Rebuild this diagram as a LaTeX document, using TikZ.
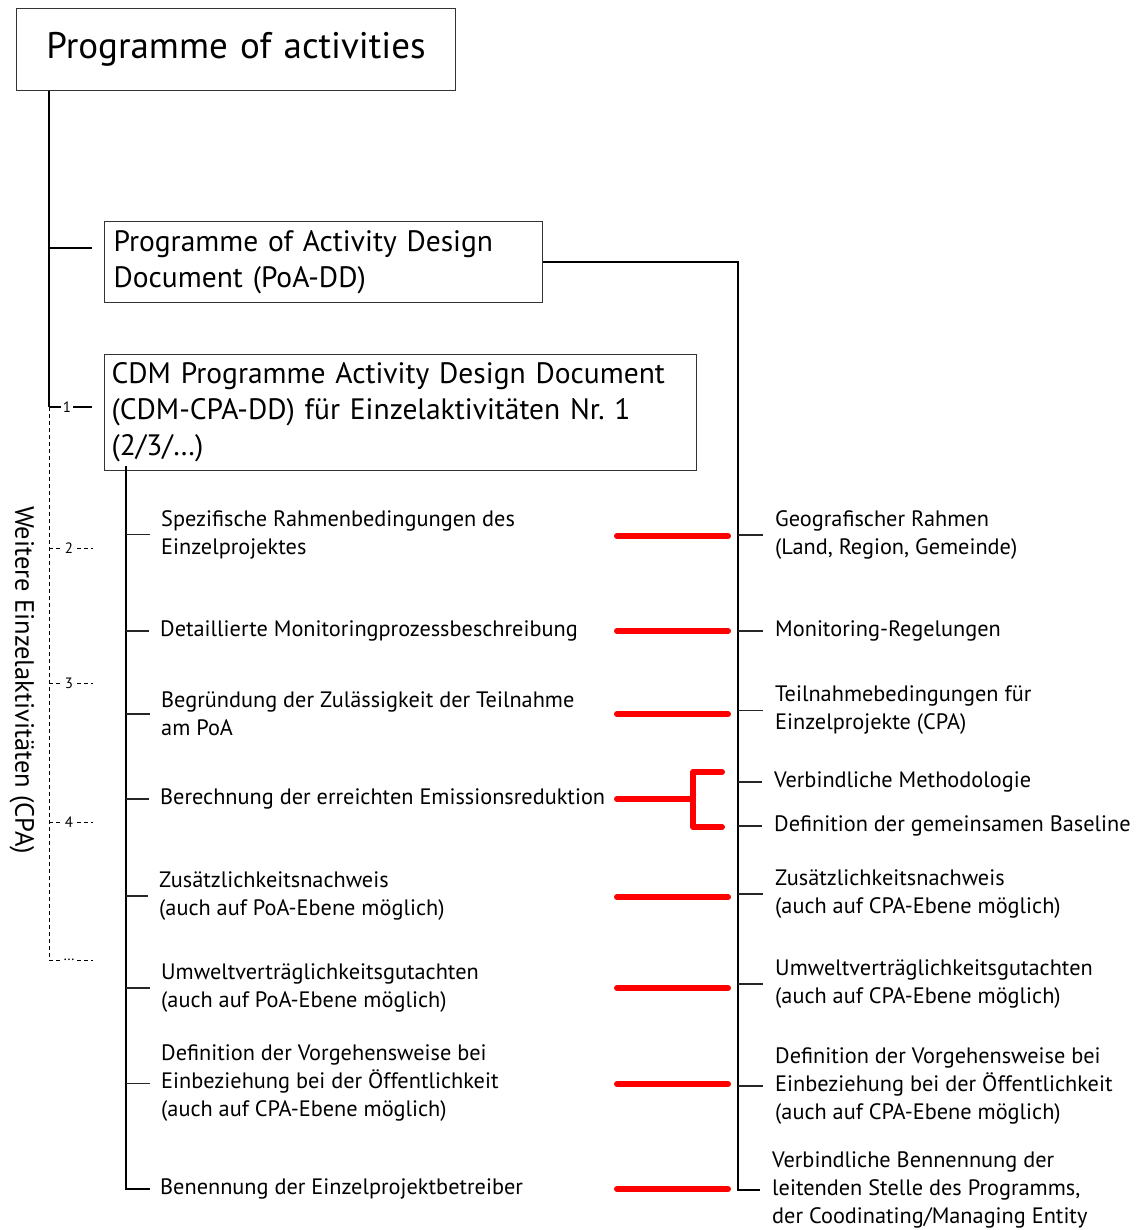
\documentclass[tikz,border=0pt]{standalone}
\usepackage{fontspec}
\setmainfont{PT Sans}
\begin{document}
\begin{tikzpicture}[x=1pt,y=-1pt,
  box/.style={draw=black!80,line width=1.1pt,anchor=north west,align=left,inner ysep=0pt},
  item/.style={anchor=west,align=left,inner sep=0pt,font=\fontsize{22.3}{28}\selectfont},
  twig/.style={line width=1.1pt,black!85},
  spine/.style={line width=1.4pt},
  trunk/.style={line width=2.2pt},
  redbar/.style={red,line width=6pt,line cap=round},
  redjoin/.style={red,line width=6pt,line cap=round,line join=round},
  num/.style={font=\fontsize{15}{16}\selectfont,fill=white,inner sep=1.5pt},
  weak/.style={dash pattern=on 4pt off 3pt,line width=1pt}
]
\useasboundingbox (0,0) rectangle (1135,1230);

% document boxes
\node[box,align=center,minimum width=439pt,minimum height=82pt,inner xsep=9.5pt,text width=420pt,
      font=\fontsize{37}{40}\selectfont] (title) at (16,8) {Programme of activities};
\node[box,minimum width=438pt,minimum height=81pt,inner xsep=9pt,text width=420pt,
      font=\fontsize{29.5}{36}\selectfont] (poa) at (104,221)
      {Programme of Activity Design\\Document (PoA-DD)};
\node[box,minimum width=592pt,minimum height=116pt,inner xsep=7pt,text width=578pt,
      font=\fontsize{29.5}{36}\selectfont] (cpa) at (104,354)
      {CDM Programme Activity Design Document\\(CDM-CPA-DD) für Einzelaktivitäten Nr.~1\\(2/3/\dots)};

% side label
\node[rotate=-90,font=\fontsize{26.5}{30}\selectfont,inner sep=0pt] (side) at (22,680)
      {Weitere Einzelaktivitäten (CPA)};

% CPA items (left column)
\node[item] (l1) at (161,534.5) {Spezifische Rahmenbedingungen des\\Einzelprojektes};
\node[item] (l2) at (160,631) {Detaillierte Monitoringprozessbeschreibung};
\node[item] (l3) at (161,714) {Begründung der Zulässigkeit der Teilnahme\\am PoA};
\node[item] (l4) at (160,799) {Berechnung der erreichten Emissionsreduktion};
\node[item] (l5) at (159,896) {Zusätzlichkeitsnachweis\\(auch auf PoA-Ebene möglich)};
\node[item] (l6) at (161,988) {Umweltverträglichkeitsgutachten\\(auch auf PoA-Ebene möglich)};
\node[item] (l7) at (161,1083.5) {Definition der Vorgehensweise bei\\Einbeziehung bei der Öffentlichkeit\\(auch auf CPA-Ebene möglich)};
\node[item] (l8) at (160,1189) {Benennung der Einzelprojektbetreiber};

% PoA items (right column)
\node[item] (r1) at (775,535) {Geografischer Rahmen\\(Land, Region, Gemeinde)};
\node[item] (r2) at (775,631) {Monitoring-Regelungen};
\node[item] (r3) at (775,710.5) {Teilnahmebedingungen für\\Einzelprojekte (CPA)};
\node[item] (r4) at (774,782) {Verbindliche Methodologie};
\node[item] (r5) at (774,826) {Definition der gemeinsamen Baseline};
\node[item] (r6) at (775,894) {Zusätzlichkeitsnachweis\\(auch auf CPA-Ebene möglich)};
\node[item] (r7) at (775,984) {Umweltverträglichkeitsgutachten\\(auch auf CPA-Ebene möglich)};
\node[item] (r8) at (775,1086) {Definition der Vorgehensweise bei\\Einbeziehung bei der Öffentlichkeit\\(auch auf CPA-Ebene möglich)};
\node[item] (r9) at (772,1190) {Verbindliche Bennennung der\\leitenden Stelle des Programms,\\der Coodinating/Managing Entity};

% main spine from the programme box
\coordinate (top) at ([xshift=33pt]title.south west);
\coordinate (poaTick) at (49,248);
\coordinate (cpaTick) at (49,407);
\coordinate (dEnd) at (49,960);
\draw[spine] (top) -- (cpaTick);
\draw[spine] (poaTick) -- ([xshift=-12pt]poa.west |- poaTick);
\draw[spine] (cpaTick) -- ([xshift=-12pt]cpa.west |- cpaTick);
\node[num] (n1) at (67,407) {1};

% further single activities (dashed)
\draw[weak] (cpaTick) -- (dEnd) -- ++(44,0);
\foreach \y/\t/\nm in {548/2/n2, 683/3/n3, 822/4/n4} {
  \draw[weak] (49,\y) -- ++(44,0);
  \node[num] (\nm) at (69,\y) {\t};
}
\node[num] (n5) at (69,960) {\dots};

% CPA tree (left)
\coordinate (lsp) at ([xshift=22pt,yshift=5pt]cpa.south west);
\draw[trunk] (lsp) -- (lsp |- l8.west) -- ([xshift=-10pt]l8.west);
\foreach \n in {l1,l2,l3,l4,l5,l6,l7}
  \draw[twig] (lsp |- \n.west) -- ([xshift=-11pt]\n.west);

% PoA tree (right)
\coordinate (rsp) at (738,0);
\draw[trunk] (poa.east) -- (rsp |- poa.east) -- (rsp |- r9.west) -- ([xshift=-12pt]r9.west);
\foreach \n in {r1,r2,r3,r4,r5,r6,r7,r8}
  \draw[twig] (rsp |- \n.west) -- ([xshift=-12pt]\n.west);

% correspondences
\coordinate (redL) at (617,0);
\coordinate (redR) at (728,0);
\foreach \n/\y in {l1/536,l2/631,l3/714,l5/897,l6/988,l7/1084,l8/1189}
  \draw[redbar] (redL |- 0,\y) -- (redR |- 0,\y);
\coordinate (fork) at (693,0);
\draw[redbar] (redL |- l4.west) -- (fork |- l4.west);
\draw[redjoin] (722,772) -- (fork |- 0,772) -- (fork |- 0,827) -- (722,827);
\end{tikzpicture}
\end{document}
